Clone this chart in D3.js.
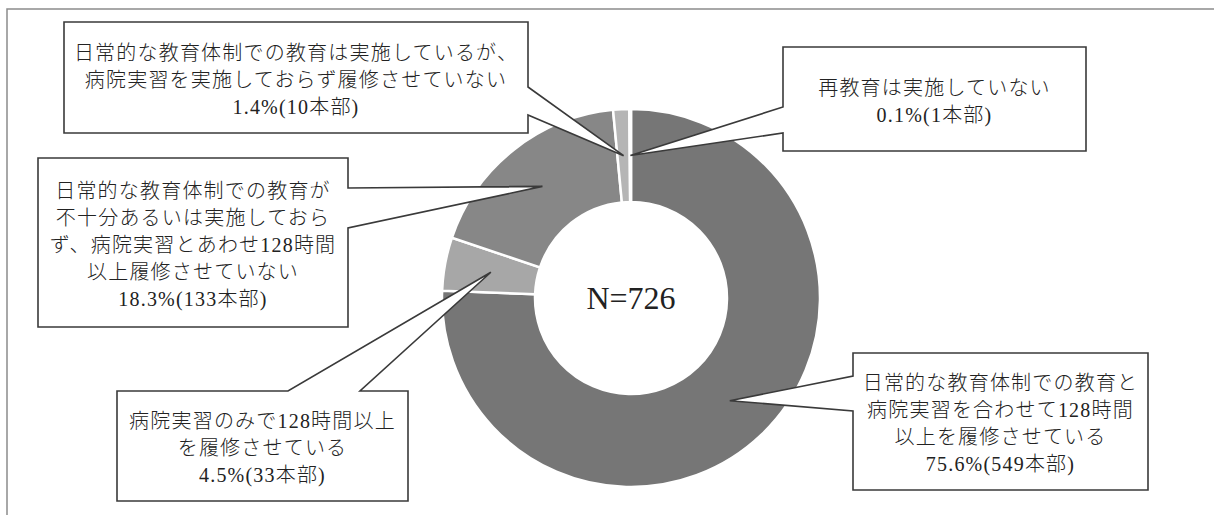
<html>
    <head>
        <style>
            body { margin: 0; background: #fff; }
            text { font-family: "Liberation Serif", "Noto Sans CJK JP", serif; fill: #222; }
        </style>
        <script src="https://d3js.org/d3.v7.min.js"></script>
    </head>
    <body>
        <svg width="1214" height="515"></svg>
        <script>
            // categories (label lines) and counts, in pie order (clockwise from 12 o'clock)
            const categories = [
                ["日常的な教育体制での教育と", "病院実習を合わせて128時間", "以上を履修させている"],
                ["病院実習のみで128時間以上", "を履修させている"],
                ["日常的な教育体制での教育が", "不十分あるいは実施しておら", "ず、病院実習とあわせ128時間", "以上履修させていない"],
                ["日常的な教育体制での教育は実施しているが、", "病院実習を実施しておらず履修させていない"],
                ["再教育は実施していない"]
            ];
            const counts = [549, 33, 133, 10, 1];
            const colors = ["#767676", "#a7a7a7", "#878787", "#b5b5b5", "#d4d4d4"];
            const total = d3.sum(counts);

            // callout boxes: position + where the pointer leaves the box
            const callouts = [
                {x: 853, y: 353, w: 295, h: 137, side: 'left', a: 376, b: 411},
                {x: 117, y: 391, w: 291, h: 110, side: 'top', a: 288, b: 360},
                {x: 38, y: 158, w: 310, h: 169, side: 'right', a: 188, b: 228},
                {x: 64, y: 22, w: 464, h: 111, side: 'right', a: 87, b: 115},
                {x: 783, y: 47, w: 303, h: 104, side: 'left', a: 107, b: 133}
            ];

            const svg = d3.select('svg');
            const cx = 631, cy = 298;
            const rOuter = 189, rInner = 96;

            // chart area frame (runs off the right and bottom)
            svg.append('rect')
                .attr('x', 7).attr('y', 9)
                .attr('width', 1240).attr('height', 540)
                .style('fill', 'none')
                .style('stroke', '#8c8c8c')
                .style('stroke-width', 1.5);

            const pie = d3.pie().sort(null).value(d => d);
            const arc = d3.arc().innerRadius(rInner).outerRadius(rOuter);
            const arcs = pie(counts);

            const g = svg.append('g').attr('transform', `translate(${cx},${cy})`);
            g.selectAll('path')
                .data(arcs)
                .join('path')
                .attr('d', arc)
                .style('fill', (d, i) => colors[i])
                .style('stroke', '#fff')
                .style('stroke-width', 2.5);

            svg.append('text')
                .attr('x', cx).attr('y', cy + 11)
                .attr('text-anchor', 'middle')
                .style('font-size', '32px')
                .text('N=' + total);

            // callouts with wedge pointers to each slice centroid
            const fmt = d3.format('.1f');
            callouts.forEach((c, i) => {
                const [tx, ty] = arc.centroid(arcs[i]);
                const tip = [cx + tx, cy + ty];
                const x0 = c.x, y0 = c.y, x1 = c.x + c.w, y1 = c.y + c.h;
                const p = d3.path();
                p.moveTo(x0, y0);
                if (c.side === 'top') { p.lineTo(c.a, y0); p.lineTo(tip[0], tip[1]); p.lineTo(c.b, y0); }
                p.lineTo(x1, y0);
                if (c.side === 'right') { p.lineTo(x1, c.a); p.lineTo(tip[0], tip[1]); p.lineTo(x1, c.b); }
                p.lineTo(x1, y1);
                p.lineTo(x0, y1);
                if (c.side === 'left') { p.lineTo(x0, c.b); p.lineTo(tip[0], tip[1]); p.lineTo(x0, c.a); }
                p.closePath();

                svg.append('path')
                    .attr('d', p.toString())
                    .style('fill', '#fff')
                    .style('stroke', '#3a3a3a')
                    .style('stroke-width', 1.6)
                    .style('stroke-linejoin', 'miter');

                const lines = categories[i].concat(fmt(counts[i] / total * 100) + '%(' + counts[i] + '本部)');
                const lh = 27;
                const midY = c.y + c.h / 2 + 2;
                const t = svg.append('text')
                    .attr('text-anchor', 'middle')
                    .style('font-size', '20px')
                    .style('font-weight', 300)
                    .style('letter-spacing', '1.2px');
                lines.forEach((s, k) => {
                    t.append('tspan')
                        .attr('x', c.x + c.w / 2)
                        .attr('y', midY + (k - (lines.length - 1) / 2) * lh)
                        .attr('dominant-baseline', 'central')
                        .text(s);
                });
            });
        </script>
    </body>
</html>
